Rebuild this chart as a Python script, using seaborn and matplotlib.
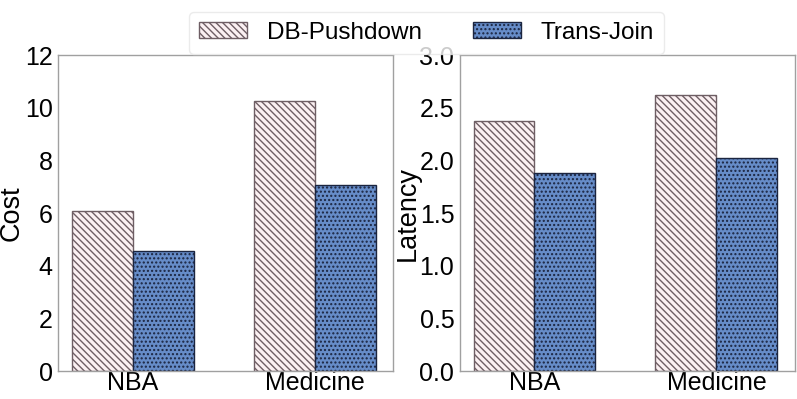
import pandas as pd
import seaborn as sns
import matplotlib
matplotlib.use('Agg')
import matplotlib.pyplot as plt

datasets = ['NBA', 'Medicine']
methods = ['DB-Pushdown', 'Trans-Join']
cost_db = [6.06, 10.27]
cost_tj = [4.55, 7.05]
lat_db = [2.37, 2.62]
lat_tj = [1.88, 2.02]

sns.set_style('white')
plt.rcParams['font.family'] = ['Liberation Sans', 'DejaVu Sans']
plt.rcParams['hatch.linewidth'] = 1.0
plt.rcParams['text.color'] = 'black'
plt.rcParams['axes.labelcolor'] = 'black'
plt.rcParams['xtick.color'] = 'black'
plt.rcParams['ytick.color'] = 'black'

colors = {'DB-Pushdown': '#fdeef1', 'Trans-Join': '#5688d8'}
edges = {'DB-Pushdown': '#6e5e64', 'Trans-Join': '#1b2540'}
hatches = {'DB-Pushdown': '\\' * 5, 'Trans-Join': '....'}

cost_df = pd.DataFrame({'dataset': datasets * 2, 'method': [methods[0]] * 2 + [methods[1]] * 2,
                        'value': cost_db + cost_tj})
lat_df = pd.DataFrame({'dataset': datasets * 2, 'method': [methods[0]] * 2 + [methods[1]] * 2,
                       'value': lat_db + lat_tj})

fig = plt.figure(figsize=(7.97, 3.99), dpi=100)
ax1 = fig.add_axes([0.073, 0.070, 0.420, 0.792])
ax2 = fig.add_axes([0.577, 0.070, 0.420, 0.792])


def draw(ax, df, ylabel, ylim, yticks, ticklabels, label_x):
    sns.barplot(data=df, x='dataset', y='value', hue='method', hue_order=methods,
                palette=colors, width=0.67, ax=ax, legend=False)
    # style each bar: seaborn puts hue levels in order
    n = len(datasets)
    for i, p in enumerate(ax.patches[:2 * n]):
        m = methods[i // n]
        p.set_hatch(hatches[m])
        p.set_edgecolor(edges[m])
        p.set_linewidth(1.0)
    ax.set_xlim(-0.41, 1.43)
    ax.set_ylim(*ylim)
    ax.set_yticks(yticks)
    ax.set_yticklabels(ticklabels)
    ax.set_xlabel('')
    ax.set_ylabel(ylabel, fontsize=19.5)
    ax.yaxis.set_label_coords(label_x, 0.5)
    ax.tick_params(axis='both', labelsize=18, length=3, width=0.8, pad=1)
    ax.tick_params(axis='y', color='#999999')
    ax.tick_params(axis='x', length=0, pad=0)
    for s in ax.spines.values():
        s.set_color('#a0a0a0')
        s.set_linewidth(1.0)


draw(ax1, cost_df, 'Cost', (0, 12), [0, 2, 4, 6, 8, 10, 12],
     ['0', '2', '4', '6', '8', '10', '12'], -0.10)
draw(ax2, lat_df, 'Latency', (0, 3.0), [0, 0.5, 1.0, 1.5, 2.0, 2.5, 3.0],
     ['0.0', '0.5', '1.0', '1.5', '2.0', '2.5', '3.0'], -0.117)

handles = ax1.patches[::2][:2]
leg = fig.legend(handles, methods, loc='upper center', bbox_to_anchor=(0.535, 1.0), ncol=2,
                 fontsize=17.5, frameon=True, handlelength=2.0, handleheight=0.65,
                 columnspacing=2.1, handletextpad=0.8, borderpad=0.4)
leg.get_frame().set_edgecolor('#e6e6e6')
leg.get_frame().set_linewidth(1.0)

fig.savefig('out.png', dpi=100)
